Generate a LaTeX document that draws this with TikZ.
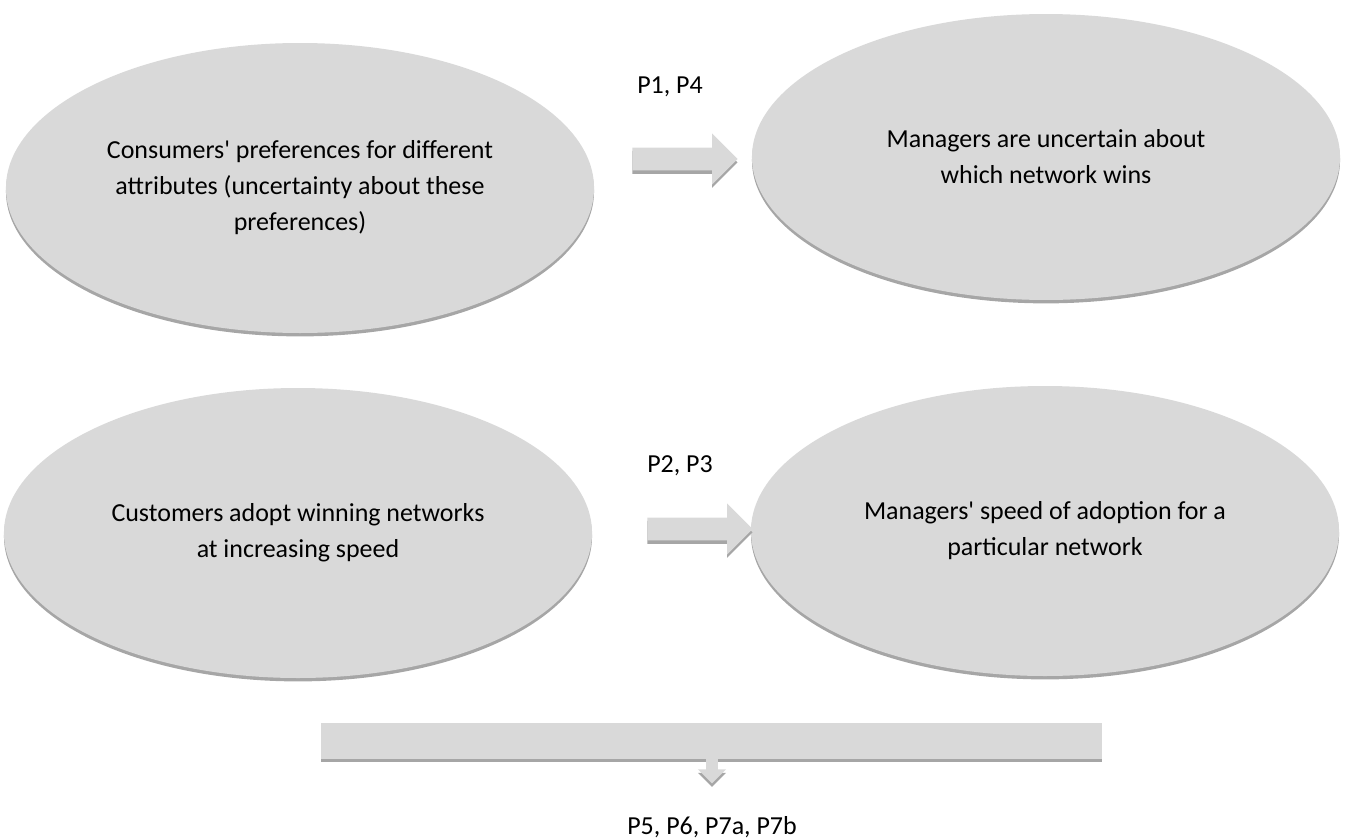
\documentclass[tikz,border=0pt]{standalone}
\usepackage{fontspec}
\setmainfont{Carlito}
\usetikzlibrary{positioning,shapes.geometric,shapes.arrows,shadows}

\definecolor{shapegray}{HTML}{D9D9D9}
\definecolor{shadegray}{HTML}{A6A6A6}

\begin{document}
\begin{tikzpicture}[
    x=0.47pt, y=-0.47pt,
    every node/.style={font=\fontsize{12.2}{16.9}\selectfont},
    shade/.style={drop shadow={shadow xshift=0pt, shadow yshift=-1.6pt, fill=shadegray, opacity=1}},
    bubble/.style={ellipse, fill=shapegray, inner sep=0pt, align=center,
        minimum width=276.4pt, minimum height=136.3pt, shade},
    blockarrow/.style={single arrow, fill=shapegray, inner sep=5.2pt,
        single arrow head extend=6.6pt, minimum height=49.4pt, anchor=tail, shade},
    plabel/.style={inner sep=0pt}
]
\useasboundingbox (0,0) rectangle (1352,838);

% Top row
\node[bubble] (C1) at (300,188) {Consumers\textquotesingle{} preferences for different\\
    attributes (uncertainty about these\\ preferences)};
\node[bubble, minimum height=134.4pt] (M1) at (1046,157) {Managers are uncertain about\\
    which network wins};

% Bottom row
\node[bubble] (C2) at (298,533) {Customers adopt winning networks\\ at increasing speed};
\node[bubble] (M2) at (1045,531) {Managers\textquotesingle{} speed of adoption for a\\
    particular network};

% Block arrows
\node[blockarrow] (A1) at (632,159) {};
\node[blockarrow] (A2) at (647,529) {};
\node[plabel] (L1) at (670,87) {P1, P4};
\node[plabel] (L2) at (680,466) {P2, P3};

% Bar with down arrow
\node[rectangle, fill=shapegray, inner sep=0pt, minimum width=367.1pt,
    minimum height=16.9pt, shade] (B) at (711.5,741) {};
\node[single arrow, shape border rotate=270, fill=shapegray, inner sep=2.6pt,
    single arrow head extend=3.8pt, minimum height=12.2pt, anchor=tail, shade]
    (D) at (712,757) {};
\node[plabel] (L3) at (712,827) {P5, P6, P7a, P7b};

\end{tikzpicture}
\end{document}
